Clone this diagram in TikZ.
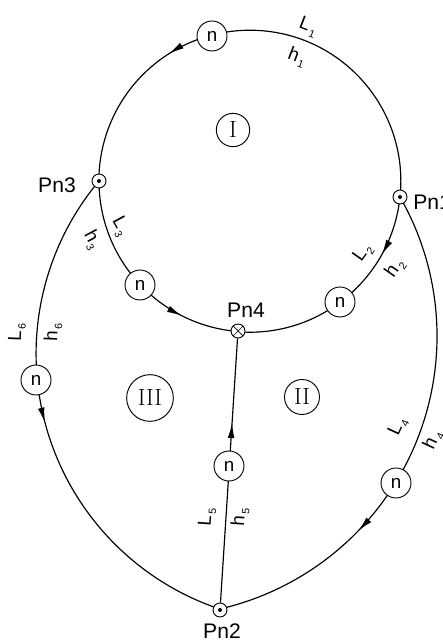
\documentclass[tikz,border=0pt]{standalone}
\usepackage{fontspec}
\usepackage{tikz}
\usetikzlibrary{arrows.meta,decorations.markings,backgrounds}
\newfontfamily\cadfont{Liberation Sans}
\newcommand{\pipelab}[2]{#1\kern1.5pt\raisebox{-0.45ex}{\fontsize{9}{9}\selectfont #2}}

\begin{document}
\begin{tikzpicture}[
  x=0.3mm, y=0.3mm,
  font=\cadfont\fontsize{16}{19}\selectfont,
  pipe/.style={line width=1pt, black},
  flow/.style={postaction={decorate}, decoration={markings,
      mark=at position #1 with {\arrow{Latex[length=4.5mm,width=2mm]}}}},
  meter/.style={circle, draw, line width=0.8pt, fill=white, minimum size=9mm, inner sep=0pt},
  junc/.style={circle, draw, line width=0.8pt, fill=white, minimum size=4.2mm, inner sep=0pt,
      path picture={\fill[black] (path picture bounding box.center) circle (0.6mm);}},
  juncx/.style={circle, draw, line width=0.8pt, fill=white, minimum size=4.2mm, inner sep=0pt,
      path picture={\draw[line width=0.6pt] (path picture bounding box.north west) -- (path picture bounding box.south east)
                    (path picture bounding box.north east) -- (path picture bounding box.south west);}},
  ringlab/.style={circle, draw, line width=0.8pt, inner sep=0pt, minimum size=10mm,
      font=\rmfamily\fontsize{20}{22}\selectfont},
  lbl/.style={inner sep=1pt},
  pnlab/.style={inner sep=1pt, font=\cadfont\fontsize{18}{20}\selectfont},
]
\useasboundingbox (0,0) rectangle (443,642);
% junctions
\node[junc]  (pn3) at (99,461) {};
\node[junc]  (pn1) at (400,445) {};
\node[juncx] (pn4) at (238,311) {};
\node[junc]  (pn2) at (220,32) {};
\node[pnlab] (pn3lab) at (57,457) {Pn3};
\node[pnlab, anchor=west] (pn1lab) at (412,440) {Pn1};
\node[pnlab] (pn4lab) at (246,332) {Pn4};
\node[pnlab] (pn2lab) at (222,11) {Pn2};
% meters
\node[meter] (n1) at (212,606) {n};
\node[meter] (n3) at (140,357) {n};
\node[meter] (n2) at (340,340) {n};
\node[meter] (n6) at (36,262) {n};
\node[meter] (n4) at (396,159) {n};
\node[meter] (n5) at (229,176) {n};
% loops
\node[ringlab] (I) at (233,512) {I};
\node[ringlab, minimum size=10.5mm] (II) at (302,245) {II};
\node[ringlab, minimum size=14mm] (III) at (150,244) {III};
% pipe labels
\node[lbl, rotate=-21] (L1) at (308,615) {\pipelab{L}{1}};
\node[lbl, rotate=-21] (h1) at (297,585) {\pipelab{h}{1}};
\node[lbl, rotate=55]  (L2) at (363,389) {\pipelab{L}{2}};
\node[lbl, rotate=55]  (h2) at (395,374) {\pipelab{h}{2}};
\node[lbl, rotate=-62] (L3) at (120,415) {\pipelab{L}{3}};
\node[lbl, rotate=-62] (h3) at (92,402) {\pipelab{h}{3}};
\node[lbl, rotate=65]  (L4) at (398,215) {\pipelab{L}{4}};
\node[lbl, rotate=65]  (h4) at (433,202) {\pipelab{h}{4}};
\node[lbl, rotate=86]  (L5) at (207,125) {\pipelab{L}{5}};
\node[lbl, rotate=86]  (h5) at (240,125) {\pipelab{h}{5}};
\node[lbl, rotate=88]  (L6) at (17,310) {\pipelab{L}{6}};
\node[lbl, rotate=88]  (h6) at (53,310) {\pipelab{h}{6}};
\begin{scope}[on background layer]
\draw[pipe, flow=0.69] (pn1.center) arc[start angle=-6, end angle=180, radius=151];
\draw[pipe, flow=0.74] (pn3.center) arc[start angle=180, end angle=265.4, radius=151];
\draw[pipe, flow=0.26] (pn1.center) arc[start angle=-6, end angle=-94.6, radius=151];
\draw[pipe, flow=0.49] (pn3.center) arc[start angle=140, end angle=251.8, radius=269];
\draw[pipe, flow=0.69] (pn1.center) arc[start angle=29.8, end angle=-77.2, radius=280];
\draw[pipe, flow=0.68] (pn2) -- (pn4);
\end{scope}
\end{tikzpicture}
\end{document}
